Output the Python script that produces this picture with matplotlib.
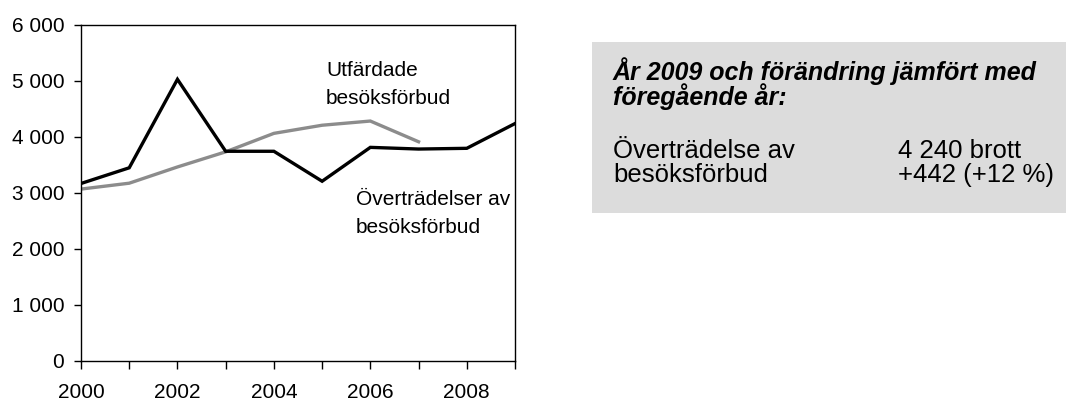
import matplotlib
matplotlib.use("Agg")
import matplotlib.pyplot as plt
from matplotlib.patches import Rectangle

plt.rcParams['font.family'] = ['Liberation Sans', 'DejaVu Sans']

# data
years = [2000, 2001, 2002, 2003, 2004, 2005, 2006, 2007, 2008, 2009]
overtradelser = [3170, 3450, 5030, 3745, 3745, 3210, 3815, 3785, 3798, 4240]
utfardade_years = [2000, 2001, 2002, 2003, 2004, 2005, 2006, 2007]
utfardade = [3070, 3175, 3465, 3735, 4065, 4210, 4285, 3915]
yticks = [0, 1000, 2000, 3000, 4000, 5000, 6000]
xticks_labeled = [2000, 2002, 2004, 2006, 2008]

W, H = 1066, 401
fig = plt.figure(figsize=(W / 100, H / 100), dpi=100)
ax = fig.add_axes([81 / W, 1 - 361 / H, 434 / W, 336 / H])

ax.plot(utfardade_years, utfardade, color='#8c8c8c', lw=2.4, solid_joinstyle='miter')
ax.plot(years, overtradelser, color='black', lw=2.4, solid_joinstyle='miter')

ax.set_xlim(2000, 2009)
ax.set_ylim(0, 6000)
ax.set_yticks(yticks)
ax.set_yticklabels([f"{v:,}".replace(",", " ") for v in yticks])
ax.set_xticks(years)
ax.set_xticklabels([str(y) if y in xticks_labeled else "" for y in years])
ax.tick_params(axis='both', direction='out', width=1, labelsize=15)
ax.tick_params(axis='x', length=6, pad=10)
ax.tick_params(axis='y', length=5, pad=7)
for s in ax.spines.values():
    s.set_linewidth(1)

# line labels
ax.text(326, H - 76, "Utfärdade", fontsize=15, va='baseline', transform=None)
ax.text(326, H - 104, "besöksförbud", fontsize=15, va='baseline', transform=None)
ax.text(356, H - 205, "Överträdelser av", fontsize=15, va='baseline', transform=None)
ax.text(356, H - 233, "besöksförbud", fontsize=15, va='baseline', transform=None)

# fact box
fig.patches.append(Rectangle((592 / W, 1 - 213 / H), 474 / W, 171 / H,
                             transform=fig.transFigure, facecolor='#dcdcdc',
                             edgecolor='none', zorder=0))
title_kw = dict(fontsize=18, fontweight='bold', fontstyle='italic', va='baseline')
fig.text(613 / W, 1 - 80 / H, "År 2009 och förändring jämfört med", **title_kw)
fig.text(613 / W, 1 - 105 / H, "föregående år:", **title_kw)
body_kw = dict(fontsize=18.5, va='baseline')
fig.text(613 / W, 1 - 158 / H, "Överträdelse av", **body_kw)
fig.text(613 / W, 1 - 182 / H, "besöksförbud", **body_kw)
fig.text(898 / W, 1 - 158 / H, "4 240 brott", **body_kw)
fig.text(898 / W, 1 - 182 / H, "+442 (+12 %)", **body_kw)

fig.savefig("out.png", dpi=100)
